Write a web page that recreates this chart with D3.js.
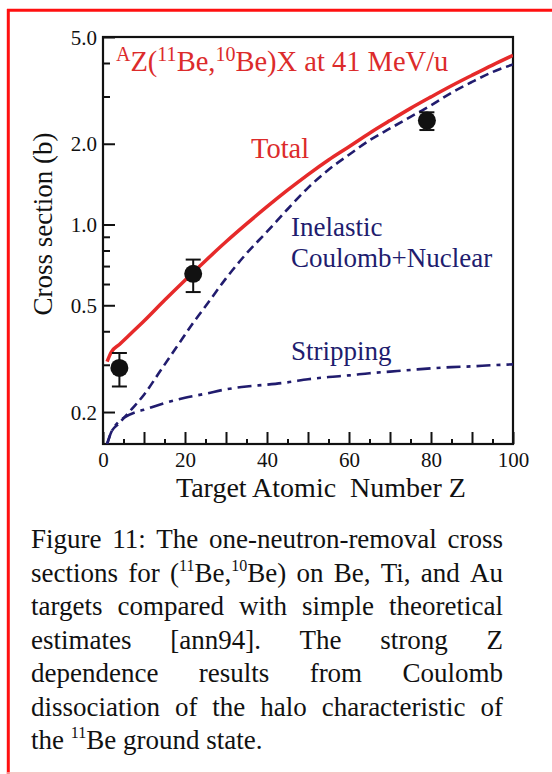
<!DOCTYPE html>
<html lang="en">
<head>
<meta charset="UTF-8">
<title>One-neutron-removal cross sections</title>
<script src="https://d3js.org/d3.v7.min.js"></script>
<style>
  body { margin: 0; background: #fff; }
  svg { display: block; }
  text { font-family: "Liberation Serif", "Times New Roman", serif; fill: #111; }
  .frame { fill: none; stroke: #111; stroke-width: 2.2px; }
  .tick line { stroke: #111; stroke-width: 2px; }
  .tick text { font-size: 21px; fill: #111; }
  .total { fill: none; stroke: #e62a2a; stroke-width: 3.5px; }
  .inelastic { fill: none; stroke: #211c6e; stroke-width: 2.6px; stroke-dasharray: 9 5; }
  .stripping { fill: none; stroke: #211c6e; stroke-width: 2.6px; stroke-dasharray: 14 6 4 6; }
  .red-label { fill: #dc2b2b; font-size: 28.5px; }
  .navy-label { fill: #211c6e; font-size: 27px; }
</style>
</head>
<body>
<svg id="chart" width="552" height="774"></svg>
<script>
// data (Z, cross section in barn)
const totalZ = [1, 2, 4, 7, 10, 15, 20, 25, 30, 35, 40, 45, 50, 55, 60, 65, 70, 75, 80, 85, 90, 95, 100];
const totalSigma = [0.308, 0.334, 0.357, 0.395, 0.437, 0.522, 0.62, 0.733, 0.862, 1.005, 1.165, 1.342, 1.535, 1.74, 1.95, 2.19, 2.44, 2.71, 2.99, 3.29, 3.6, 3.93, 4.27];

const inelZ = [1, 2, 4, 7, 10, 14, 18, 22, 26, 30, 35, 40, 45, 50, 55, 60, 65, 70, 75, 80, 85, 90, 95, 100];
const inelSigma = [0.152, 0.168, 0.182, 0.205, 0.232, 0.285, 0.35, 0.43, 0.52, 0.63, 0.78, 0.94, 1.14, 1.37, 1.6, 1.82, 2.06, 2.28, 2.52, 2.78, 3.1, 3.4, 3.7, 3.95];

const stripZ = [1, 2, 3, 5, 8, 10, 15, 20, 25, 30, 35, 40, 45, 50, 55, 60, 65, 70, 75, 80, 85, 90, 95, 100];
const stripSigma = [0.152, 0.168, 0.178, 0.19, 0.2, 0.204, 0.216, 0.226, 0.234, 0.243, 0.249, 0.253, 0.258, 0.265, 0.27, 0.274, 0.279, 0.283, 0.287, 0.291, 0.294, 0.296, 0.299, 0.301];

const targets = ["Be", "Ti", "Au"];
const targetZ = [4, 22, 79];
const measured = [0.292, 0.655, 2.44];
const errLow = [0.249, 0.56, 2.25];
const errHigh = [0.332, 0.74, 2.62];

const yMajor = [0.2, 0.5, 1.0, 2.0, 5.0];
const yMinor = [0.3, 0.4, 0.6, 0.7, 0.8, 0.9, 3, 4];
const xMajor = d3.range(0, 101, 10);
const xMinor = d3.range(5, 100, 10);

const captionLines = [
  "Figure 11: The one-neutron-removal cross",
  "sections for (^11Be,^10Be) on Be, Ti, and Au",
  "targets compared with simple theoretical",
  "estimates [ann94]. The strong Z",
  "dependence results from Coulomb",
  "dissociation of the halo characteristic of",
  "the ^11Be ground state."
];

const svg = d3.select("#chart");
const plot = { left: 103, top: 37, right: 513, bottom: 444 };

const x = d3.scaleLinear().domain([0, 100]).range([plot.left, plot.right]);
const y = d3.scaleLog().domain([0.152, 5.0]).range([plot.bottom, plot.top]);

// red page border
svg.append("line").attr("x1", 7).attr("x2", 552).attr("y1", 10.3).attr("y2", 10.3)
  .attr("stroke", "#ff1010").attr("stroke-width", 3);
svg.append("line").attr("x1", 8.3).attr("x2", 8.3).attr("y1", 9).attr("y2", 774)
  .attr("stroke", "#ff1010").attr("stroke-width", 3);
svg.append("line").attr("x1", 7).attr("x2", 552).attr("y1", 773).attr("y2", 773)
  .attr("stroke", "#f6b4b4").attr("stroke-width", 1.5);

svg.append("clipPath").attr("id", "clip").append("rect")
  .attr("x", plot.left).attr("y", plot.top)
  .attr("width", plot.right - plot.left).attr("height", plot.bottom - plot.top);

// axes
svg.append("g").attr("transform", `translate(${plot.left},0)`)
  .call(d3.axisLeft(y).tickValues(yMajor).tickSizeInner(-12).tickSizeOuter(0)
    .tickPadding(6).tickFormat(d3.format(".1f")))
  .call(g => g.select(".domain").remove())
  .call(g => g.selectAll("text").attr("font-family", null).attr("font-size", null).attr("dy", "0.34em"));
svg.append("g").attr("transform", `translate(${plot.left},0)`)
  .call(d3.axisLeft(y).tickValues(yMinor).tickSizeInner(-7).tickSizeOuter(0).tickFormat(""))
  .call(g => g.select(".domain").remove());

svg.append("g").attr("transform", `translate(0,${plot.bottom})`)
  .call(d3.axisBottom(x).tickValues(xMajor).tickSizeInner(-12).tickSizeOuter(0)
    .tickPadding(8).tickFormat(d => d % 20 === 0 ? d : ""))
  .call(g => g.select(".domain").remove())
  .call(g => g.selectAll("text").attr("font-family", null).attr("font-size", null).attr("dy", "0.71em"));
svg.append("g").attr("transform", `translate(0,${plot.bottom})`)
  .call(d3.axisBottom(x).tickValues(xMinor).tickSizeInner(-5).tickSizeOuter(0).tickFormat(""))
  .call(g => g.select(".domain").remove());

svg.append("rect").attr("class", "frame")
  .attr("x", plot.left).attr("y", plot.top)
  .attr("width", plot.right - plot.left).attr("height", plot.bottom - plot.top);

svg.append("text").attr("x", 321).attr("y", 497).attr("text-anchor", "middle")
  .attr("font-size", 28).text("Target Atomic\u00a0 Number Z");
svg.append("text").attr("transform", "translate(52,224) rotate(-90)")
  .attr("text-anchor", "middle").attr("font-size", 27).text("Cross section (b)");

// curves
const line = d3.line().x(d => x(d[0])).y(d => y(d[1])).curve(d3.curveMonotoneX);
const curves = svg.append("g").attr("clip-path", "url(#clip)");
curves.append("path").attr("class", "stripping").attr("d", line(d3.zip(stripZ, stripSigma)));
curves.append("path").attr("class", "inelastic").attr("d", line(d3.zip(inelZ, inelSigma)));
curves.append("path").attr("class", "total").attr("d", line(d3.zip(totalZ, totalSigma)));

// measured points
const pts = svg.append("g").selectAll("g").data(targets).join("g");
pts.append("line").attr("x1", (d, i) => x(targetZ[i])).attr("x2", (d, i) => x(targetZ[i]))
  .attr("y1", (d, i) => y(errLow[i])).attr("y2", (d, i) => y(errHigh[i]))
  .attr("stroke", "#111").attr("stroke-width", 2);
[errLow, errHigh].forEach(arr => {
  pts.append("line").attr("x1", (d, i) => x(targetZ[i]) - 7.5).attr("x2", (d, i) => x(targetZ[i]) + 7.5)
    .attr("y1", (d, i) => y(arr[i])).attr("y2", (d, i) => y(arr[i]))
    .attr("stroke", "#111").attr("stroke-width", 2);
});
pts.append("circle").attr("cx", (d, i) => x(targetZ[i])).attr("cy", (d, i) => y(measured[i]))
  .attr("r", 9).attr("fill", "#111");

// rich text helper: parts = [[text, isSup], ...]
function addRich(sel, parts, supSize, shift) {
  let up = false;
  parts.forEach(([t, sup]) => {
    const ts = sel.append("tspan").text(t);
    if (sup) ts.attr("font-size", supSize);
    if (sup && !up) { ts.attr("dy", -shift); up = true; }
    else if (!sup && up) { ts.attr("dy", shift); up = false; }
  });
  return sel;
}
function parseSup(word) {
  return word.split(/\^(\d+)/).map((t, i) => [t, i % 2 === 1]).filter(p => p[0] !== "");
}

// labels in the plot
addRich(svg.append("text").attr("class", "red-label").attr("x", 116).attr("y", 71),
  [["A", true], ["Z(", false], ["11", true], ["Be,", false], ["10", true], ["Be)X at 41 MeV/u", false]], 20, 10);
svg.append("text").attr("class", "red-label").attr("x", 251).attr("y", 158).text("Total");
svg.append("text").attr("class", "navy-label").attr("x", 291).attr("y", 236).text("Inelastic");
svg.append("text").attr("class", "navy-label").attr("x", 291).attr("y", 267).text("Coulomb+Nuclear");
svg.append("text").attr("class", "navy-label").attr("x", 291).attr("y", 360).text("Stripping");

// justified caption
const capLeft = 31, capWidth = 472, capTop = 548, capStep = 33.5;
captionLines.forEach((ln, li) => {
  const words = ln.split(" ");
  const nodes = words.map(w => addRich(svg.append("text").attr("font-size", 27)
    .attr("y", capTop + li * capStep), parseSup(w), 16, 11));
  const widths = nodes.map(n => n.node().getComputedTextLength());
  const last = li === captionLines.length - 1;
  const gap = last ? 6.75 : (capWidth - d3.sum(widths)) / (words.length - 1);
  let cx = capLeft;
  nodes.forEach((n, i) => { n.attr("x", cx); cx += widths[i] + gap; });
});
</script>
</body>
</html>
